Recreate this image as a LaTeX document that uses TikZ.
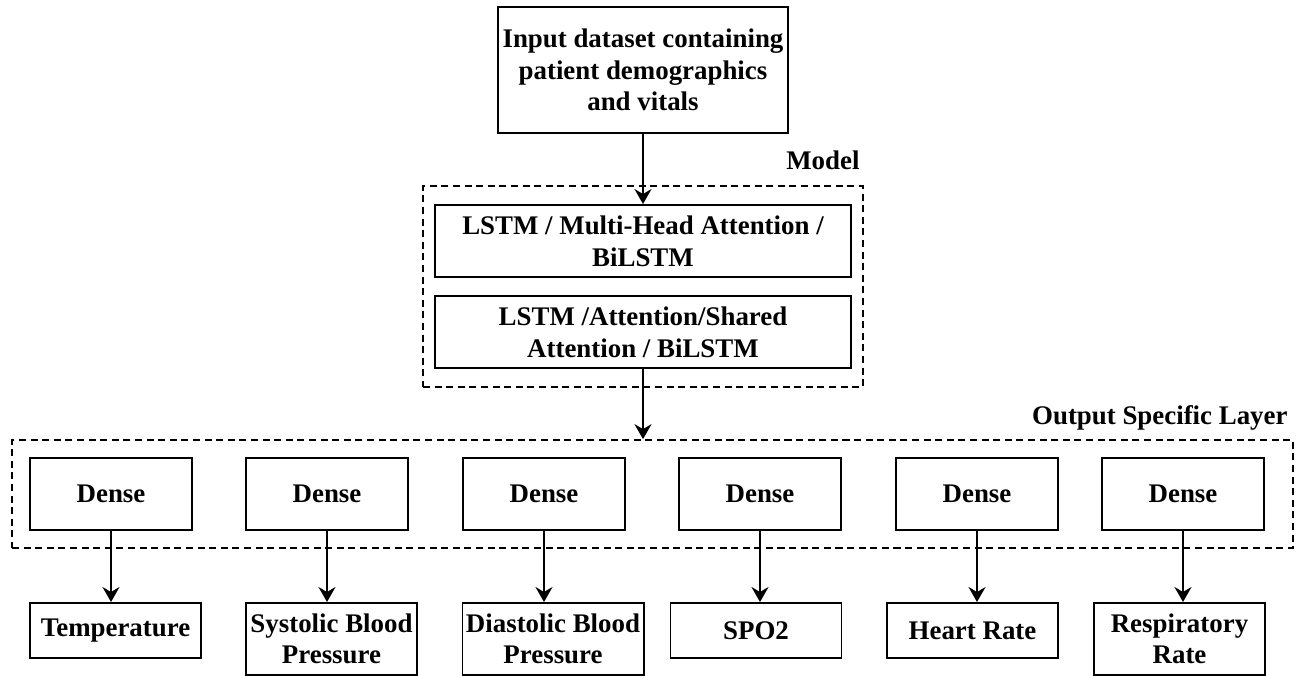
\documentclass[tikz,border=0pt]{standalone}
\usepackage{fontspec}
\setmainfont{Liberation Serif}
\usetikzlibrary{arrows.meta,fit}

\tikzset{
  box/.style={draw, line width=1.1pt, align=center, inner sep=2pt},
  grp/.style={draw, line width=1pt, dash pattern=on 4pt off 2.6pt, inner sep=0pt},
  arr/.style={line width=1.1pt, -{Stealth[length=0.3cm, width=0.34cm, inset=0.1cm]}},
  lbl/.style={inner sep=0pt}
}

\begin{document}
\begin{tikzpicture}[every node/.style={font=\fontsize{15.3}{18}\selectfont\bfseries}]
  \useasboundingbox (0,0) rectangle (26.16,-13.5);

  % input and model
  \node[box, minimum width=5.8cm, minimum height=2.52cm] (input) at (12.86,-1.40)
    {Input dataset containing\\patient demographics\\and vitals};
  \node[box, minimum width=8.32cm, minimum height=1.44cm] (lstma) at (12.86,-4.82)
    {LSTM / Multi-Head Attention /\\BiLSTM};
  \node[box, minimum width=8.32cm, minimum height=1.44cm] (lstmb) at (12.86,-6.64)
    {LSTM /Attention/Shared\\Attention / BiLSTM};
  \node[grp, fit=(lstma)(lstmb), inner xsep=0.22cm, inner ysep=0.36cm] (model) {};
  \node[lbl, anchor=base east] (modellbl) at ([shift={(-0.08,0.32)}]model.north east) {Model};
  \draw[arr] (input) -- (lstma);

  % output specific layer
  \node[grp, minimum width=25.62cm, minimum height=2.16cm] (outlayer) at (13.05,-9.88) {};
  \node[lbl, anchor=base east] (outlbl) at ([shift={(-0.12,0.3)}]outlayer.north east) {Output Specific Layer};
  \draw[arr] (lstmb) -- (lstmb |- outlayer.north);

  \foreach \i/\x in {1/2.22, 2/6.54, 3/10.88, 4/15.20, 5/19.54, 6/23.66}
    \node[box, minimum width=3.24cm, minimum height=1.44cm] (dense\i) at (\x,-9.88) {Dense};

  \foreach \i/\x/\h/\txt in {1/2.31/1.1/{Temperature}, 2/6.63/1.44/{Systolic Blood\\Pressure},
      3/11.06/1.44/{Diastolic Blood\\Pressure}, 4/15.12/1.1/{SPO2}, 5/19.45/1.1/{Heart Rate},
      6/23.59/1.44/{Respiratory\\Rate}} {
    \node[box, anchor=north, minimum width=3.42cm, minimum height=\h cm] (out\i) at (\x,-12.04) {\txt};
    \draw[arr] (dense\i) -- (dense\i |- out\i.north);
  }
\end{tikzpicture}
\end{document}
